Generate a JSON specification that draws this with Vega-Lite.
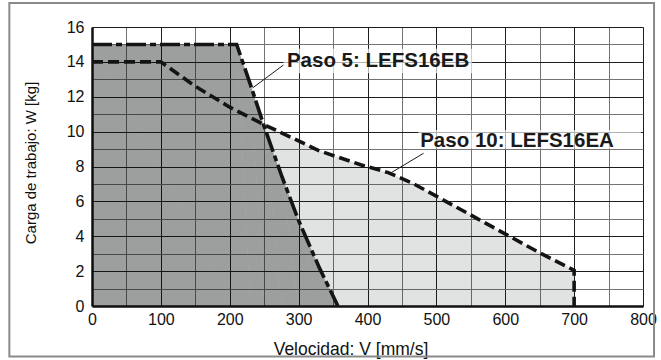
{
  "$schema": "https://vega.github.io/schema/vega-lite/v6.json",
  "width": 551,
  "height": 279,
  "autosize": {"type": "none"},
  "padding": {"left": 92, "top": 27, "right": 18, "bottom": 54},
  "background": "white",
  "config": {"view": {"stroke": null}, "font": "Liberation Sans"},
  "datasets": {
    "p5": [
      {"i": 0, "v": 0, "w": 15}, {"i": 1, "v": 210, "w": 15}, {"i": 2, "v": 230, "w": 12.7},
      {"i": 3, "v": 250, "w": 10.3}, {"i": 4, "v": 275, "w": 7.5}, {"i": 5, "v": 300, "w": 4.9},
      {"i": 6, "v": 330, "w": 2.2}, {"i": 7, "v": 357, "w": 0}
    ],
    "p10": [
      {"i": 0, "v": 0, "w": 14}, {"i": 1, "v": 100, "w": 14}, {"i": 2, "v": 150, "w": 12.6},
      {"i": 3, "v": 200, "w": 11.4}, {"i": 4, "v": 250, "w": 10.4}, {"i": 5, "v": 330, "w": 8.9},
      {"i": 6, "v": 390, "w": 8.1}, {"i": 7, "v": 430, "w": 7.65}, {"i": 8, "v": 465, "w": 7.05},
      {"i": 9, "v": 560, "w": 5.0}, {"i": 10, "v": 650, "w": 3.05}, {"i": 11, "v": 700, "w": 2.05},
      {"i": 12, "v": 700, "w": 0}
    ],
    "envelope": [
      {"i": 0, "v": 0, "w": 15}, {"i": 1, "v": 210, "w": 15}, {"i": 2, "v": 230, "w": 12.7},
      {"i": 3, "v": 248, "w": 10.45}, {"i": 4, "v": 250, "w": 10.4}, {"i": 5, "v": 330, "w": 8.9},
      {"i": 6, "v": 390, "w": 8.1}, {"i": 7, "v": 430, "w": 7.65}, {"i": 8, "v": 465, "w": 7.05},
      {"i": 9, "v": 560, "w": 5.0}, {"i": 10, "v": 650, "w": 3.05}, {"i": 11, "v": 700, "w": 2.05},
      {"i": 12, "v": 700, "w": 0}
    ],
    "boxes": [
      {"v": 278, "v2": 552, "w": 14.75, "w2": 13.35},
      {"v": 474, "v2": 797, "w": 10.1, "w2": 9.02}
    ],
    "leaders": [
      {"v": 278, "w": 13.82, "v2": 233, "w2": 12.5},
      {"v": 481.4, "w": 8.76, "v2": 433, "w2": 7.61}
    ],
    "labels": [
      {"v": 283, "w": 13.69, "t": "Paso 5: LEFS16EB"},
      {"v": 476.5, "w": 9.13, "t": "Paso 10: LEFS16EA"}
    ],
    "frame": [
      {"v": -120, "v2": 816, "w": 17.37, "w2": -2.9}
    ]
  },
  "encoding": {
    "x": {
      "field": "v", "type": "quantitative",
      "scale": {"domain": [0, 800], "nice": false, "zero": false},
      "axis": {
        "title": "Velocidad: V [mm/s]",
        "values": [0, 50, 100, 150, 200, 250, 300, 350, 400, 450, 500, 550, 600, 650, 700, 750, 800],
        "labelExpr": "datum.value % 100 === 0 ? datum.label : ''",
        "ticks": false, "grid": true,
        "gridColor": {"condition": {"test": "datum.value % 100 === 0", "value": "#1e1e1e"}, "value": "#737373"},
        "gridWidth": 1, "gridOpacity": 1,
        "domainColor": "#111", "domainWidth": 2.5,
        "labelFontSize": 16, "labelColor": "#111", "labelPadding": 5,
        "labelFlush": false, "labelOverlap": false,
        "titleFontSize": 17.5, "titleFontWeight": "normal", "titleColor": "#111",
        "titleX": 258.5, "titleY": 48.5, "titleBaseline": "alphabetic", "titleAlign": "center"
      }
    },
    "y": {
      "field": "w", "type": "quantitative",
      "scale": {"domain": [0, 16], "nice": false},
      "axis": {
        "title": "Carga de trabajo: W [kg]",
        "values": [0, 1, 2, 3, 4, 5, 6, 7, 8, 9, 10, 11, 12, 13, 14, 15, 16],
        "labelExpr": "datum.value % 2 === 0 ? datum.label : ''",
        "ticks": false, "grid": true,
        "gridColor": {"condition": {"test": "datum.value % 2 === 0", "value": "#1e1e1e"}, "value": "#737373"},
        "gridWidth": 1, "gridOpacity": 1,
        "domainColor": "#111", "domainWidth": 2.5,
        "labelFontSize": 16, "labelColor": "#111", "labelPadding": 8,
        "labelFlush": false, "labelOverlap": false,
        "titleFontSize": 15, "titleFontWeight": "normal", "titleColor": "#111",
        "titleX": -56.7, "titleY": 135.5, "titleAngle": -90, "titleBaseline": "alphabetic", "titleAlign": "center"
      }
    }
  },
  "layer": [
    {
      "data": {"name": "envelope"},
      "mark": {"type": "area", "fill": "#0a0e14", "opacity": 0.12},
      "encoding": {"order": {"field": "i"}}
    },
    {
      "data": {"name": "p5"},
      "mark": {"type": "area", "fill": "#08090b", "opacity": 0.31},
      "encoding": {"order": {"field": "i"}}
    },
    {
      "data": {"name": "p10"},
      "mark": {"type": "line", "color": "#141414", "strokeWidth": 3.6, "strokeDash": [11, 5]},
      "encoding": {"order": {"field": "i"}}
    },
    {
      "data": {"name": "p5"},
      "mark": {"type": "line", "color": "#141414", "strokeWidth": 3.6, "strokeDash": [20, 4, 6, 4]},
      "encoding": {"order": {"field": "i"}}
    },
    {
      "data": {"name": "boxes"},
      "mark": {"type": "rect", "fill": "white", "opacity": 0.65},
      "encoding": {"x2": {"field": "v2"}, "y2": {"field": "w2"}}
    },
    {
      "data": {"name": "leaders"},
      "mark": {"type": "rule", "color": "#1a1a1a", "strokeWidth": 1},
      "encoding": {"x2": {"field": "v2"}, "y2": {"field": "w2"}}
    },
    {
      "data": {"name": "labels"},
      "mark": {"type": "text", "align": "left", "baseline": "alphabetic", "fontSize": 20.5, "fontWeight": "bold", "color": "#1a1a1a", "font": "Liberation Sans"},
      "encoding": {"text": {"field": "t"}}
    },
    {
      "data": {"name": "frame"},
      "mark": {"type": "rect", "fillOpacity": 0, "stroke": "#8a8a8a", "strokeWidth": 2, "clip": false},
      "encoding": {"x2": {"field": "v2"}, "y2": {"field": "w2"}}
    }
  ]
}
